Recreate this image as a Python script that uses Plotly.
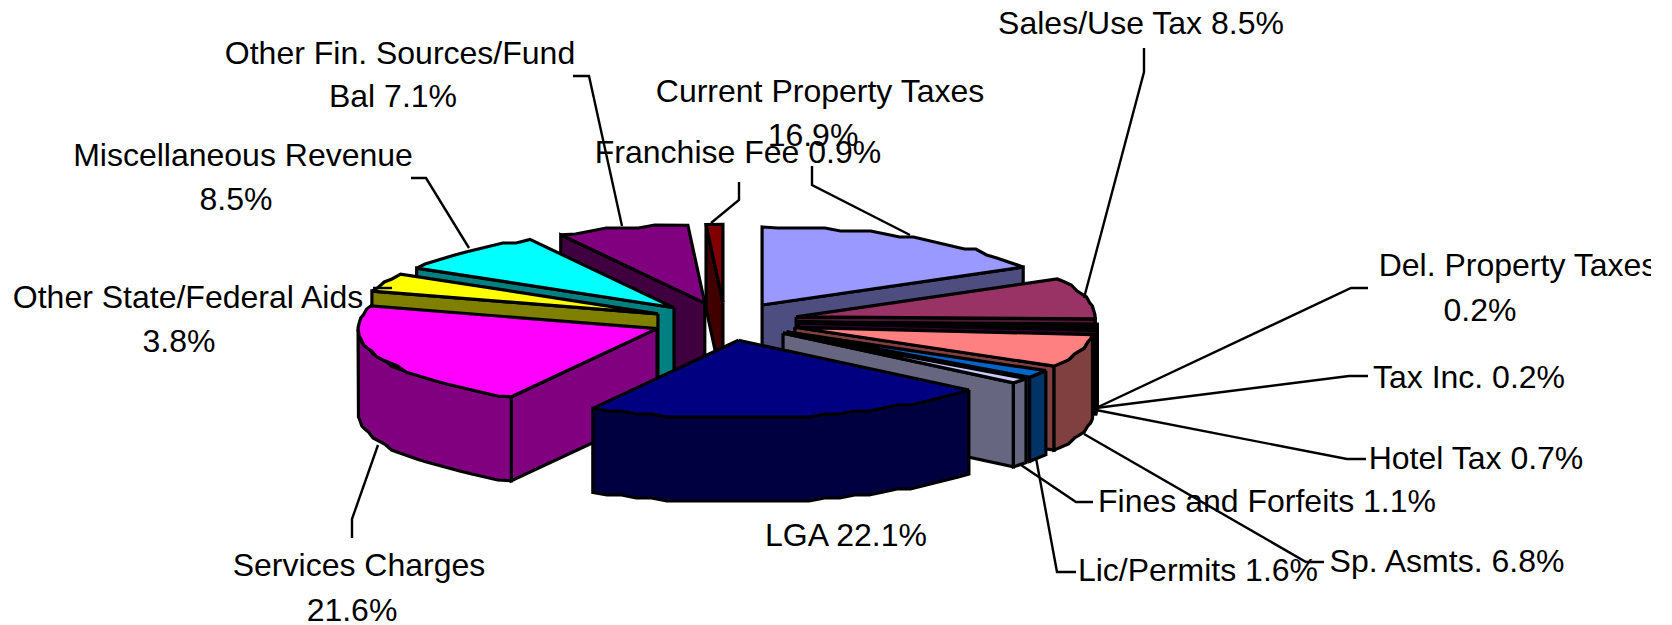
import numpy as np
import plotly.graph_objects as go

# ---- data ----
categories = ["Current Property Taxes", "Sales/Use Tax", "Del. Property Taxes", "Tax Inc.", "Hotel Tax",
              "Sp. Asmts.", "Lic/Permits", "Fines and Forfeits", "LGA", "Services Charges",
              "Other State/Federal Aids", "Miscellaneous Revenue", "Other Fin. Sources/Fund Bal", "Franchise Fee"]
values = [16.9, 8.5, 0.2, 0.2, 0.7, 6.8, 1.6, 1.1, 22.1, 21.6, 3.8, 8.5, 7.1, 0.9]

# ---- styles ----
top_colors = ["#9999FF", "#993366", "#FFFFCC", "#CCFFFF", "#660066", "#FF8080", "#0066CC", "#CCCCFF",
              "#000080", "#FF00FF", "#FFFF00", "#00FFFF", "#800080", "#800000"]
wall_colors = ["#4D4D80", "#4D1A33", "#808066", "#668080", "#330033", "#804040", "#003366", "#666680",
               "#000040", "#800080", "#808000", "#008080", "#400040", "#400000"]

CX, CY, RX, RY, DEPTH, EXPLODE = 725.0, 321.5, 299.0, 78.0, 84.0, 0.245
OUTLINE = 3.2

# label text lines with their centre positions
label_text = ["Sales/Use Tax 8.5%", "Other Fin. Sources/Fund", "Bal 7.1%", "Current Property Taxes", "16.9%",
              "Franchise Fee 0.9%", "Miscellaneous Revenue", "8.5%", "Other State/Federal Aids", "3.8%",
              "Del. Property Taxes", "0.2%", "Tax Inc. 0.2%", "Hotel Tax 0.7%", "Fines and Forfeits 1.1%",
              "Sp. Asmts. 6.8%", "Lic/Permits 1.6%", "LGA 22.1%", "Services Charges", "21.6%"]
label_x = [1141, 400, 393, 820, 813, 738, 243, 236, 188, 179, 1518, 1480, 1469, 1476, 1267, 1447, 1198, 846, 359, 352]
label_y = [26, 56, 99, 94, 138, 155, 158, 202, 300, 344, 268, 313, 380, 461, 504, 564, 573, 538, 568, 613]

leaders = [
    [(573, 76), (589, 76), (622, 226)],
    [(411, 178), (426, 178), (469, 248)],
    [(373, 288), (392, 288)],
    [(352, 538), (352, 519), (378, 445)],
    [(739, 182), (739, 200), (711, 223)],
    [(812, 166), (812, 185), (910, 235)],
    [(1144, 48), (1144, 72), (1084, 298)],
    [(1368, 288), (1351, 288), (1096, 408)],
    [(1368, 376), (1349, 376), (1096, 408)],
    [(1366, 459), (1347, 459), (1096, 410)],
    [(1324, 562), (1306, 562), (1084, 434)],
    [(1093, 502), (1076, 502), (1021, 465)],
    [(1076, 572), (1057, 572), (1036, 458)],
]

# ---- geometry derived from the values ----
shares = np.array(values) / np.sum(values)
ends = np.cumsum(shares) * 2 * np.pi
starts = ends - shares * 2 * np.pi
mids = (starts + ends) / 2


def arc(ax, ay, a0, a1):
    n = max(2, int(np.degrees(a1 - a0) / 3.0) + 1)
    t = np.linspace(a0, a1, n)
    x = ax + RX * np.sin(t)
    y = ay - RY * np.cos(t)
    y[1:-1] = np.round(y[1:-1] / 3.0) * 3.0
    return x, y


fig = go.Figure()


def poly(x, y, color):
    x = list(x) + [x[0]]
    y = list(y) + [y[0]]
    fig.add_trace(go.Scatter(x=x, y=y, mode="lines", fill="toself", fillcolor=color,
                             line=dict(color="black", width=OUTLINE), hoverinfo="skip", showlegend=False))


for i in np.argsort(-np.cos(mids)):
    a0, a1 = starts[i], ends[i]
    ax = CX + EXPLODE * RX * np.sin(mids[i])
    ay = CY - EXPLODE * RY * np.cos(mids[i])
    wall = wall_colors[i]
    # radial faces turned to the viewer
    if np.sin(a0) < -1e-6:
        ex, ey = ax + RX * np.sin(a0), ay - RY * np.cos(a0)
        poly([ax, ex, ex, ax], [ay, ey, ey + DEPTH, ay + DEPTH], wall)
    if np.sin(a1) > 1e-6:
        ex, ey = ax + RX * np.sin(a1), ay - RY * np.cos(a1)
        poly([ax, ex, ex, ax], [ay, ey, ey + DEPTH, ay + DEPTH], wall)
    # outer rim, front part only
    w0, w1 = max(a0, np.pi / 2), min(a1, 3 * np.pi / 2)
    if w1 > w0:
        rx_, ry_ = arc(ax, ay, w0, w1)
        poly(np.r_[rx_, rx_[::-1]], np.r_[ry_, ry_[::-1] + DEPTH], wall)
    # top
    tx, ty = arc(ax, ay, a0, a1)
    poly(np.r_[ax, tx], np.r_[ay, ty], top_colors[i])

for seg in leaders:
    fig.add_trace(go.Scatter(x=[p[0] for p in seg], y=[p[1] for p in seg], mode="lines",
                             line=dict(color="black", width=2.4), hoverinfo="skip", showlegend=False))

fig.add_trace(go.Scatter(x=label_x, y=label_y, text=label_text, mode="text", textposition="middle center",
                         textfont=dict(family="Liberation Sans", size=32, color="black"),
                         cliponaxis=True, hoverinfo="skip", showlegend=False))

fig.update_layout(width=1672, height=625, margin=dict(l=0, r=21, t=0, b=0), paper_bgcolor="white",
                  plot_bgcolor="white", showlegend=False,
                  xaxis=dict(range=[0, 1651], visible=False, fixedrange=True),
                  yaxis=dict(range=[625, 0], visible=False, fixedrange=True))
fig.write_html("out.html", config={"displayModeBar": False},
               post_script="document.body.style.margin='0';document.documentElement.style.overflow='hidden';")
